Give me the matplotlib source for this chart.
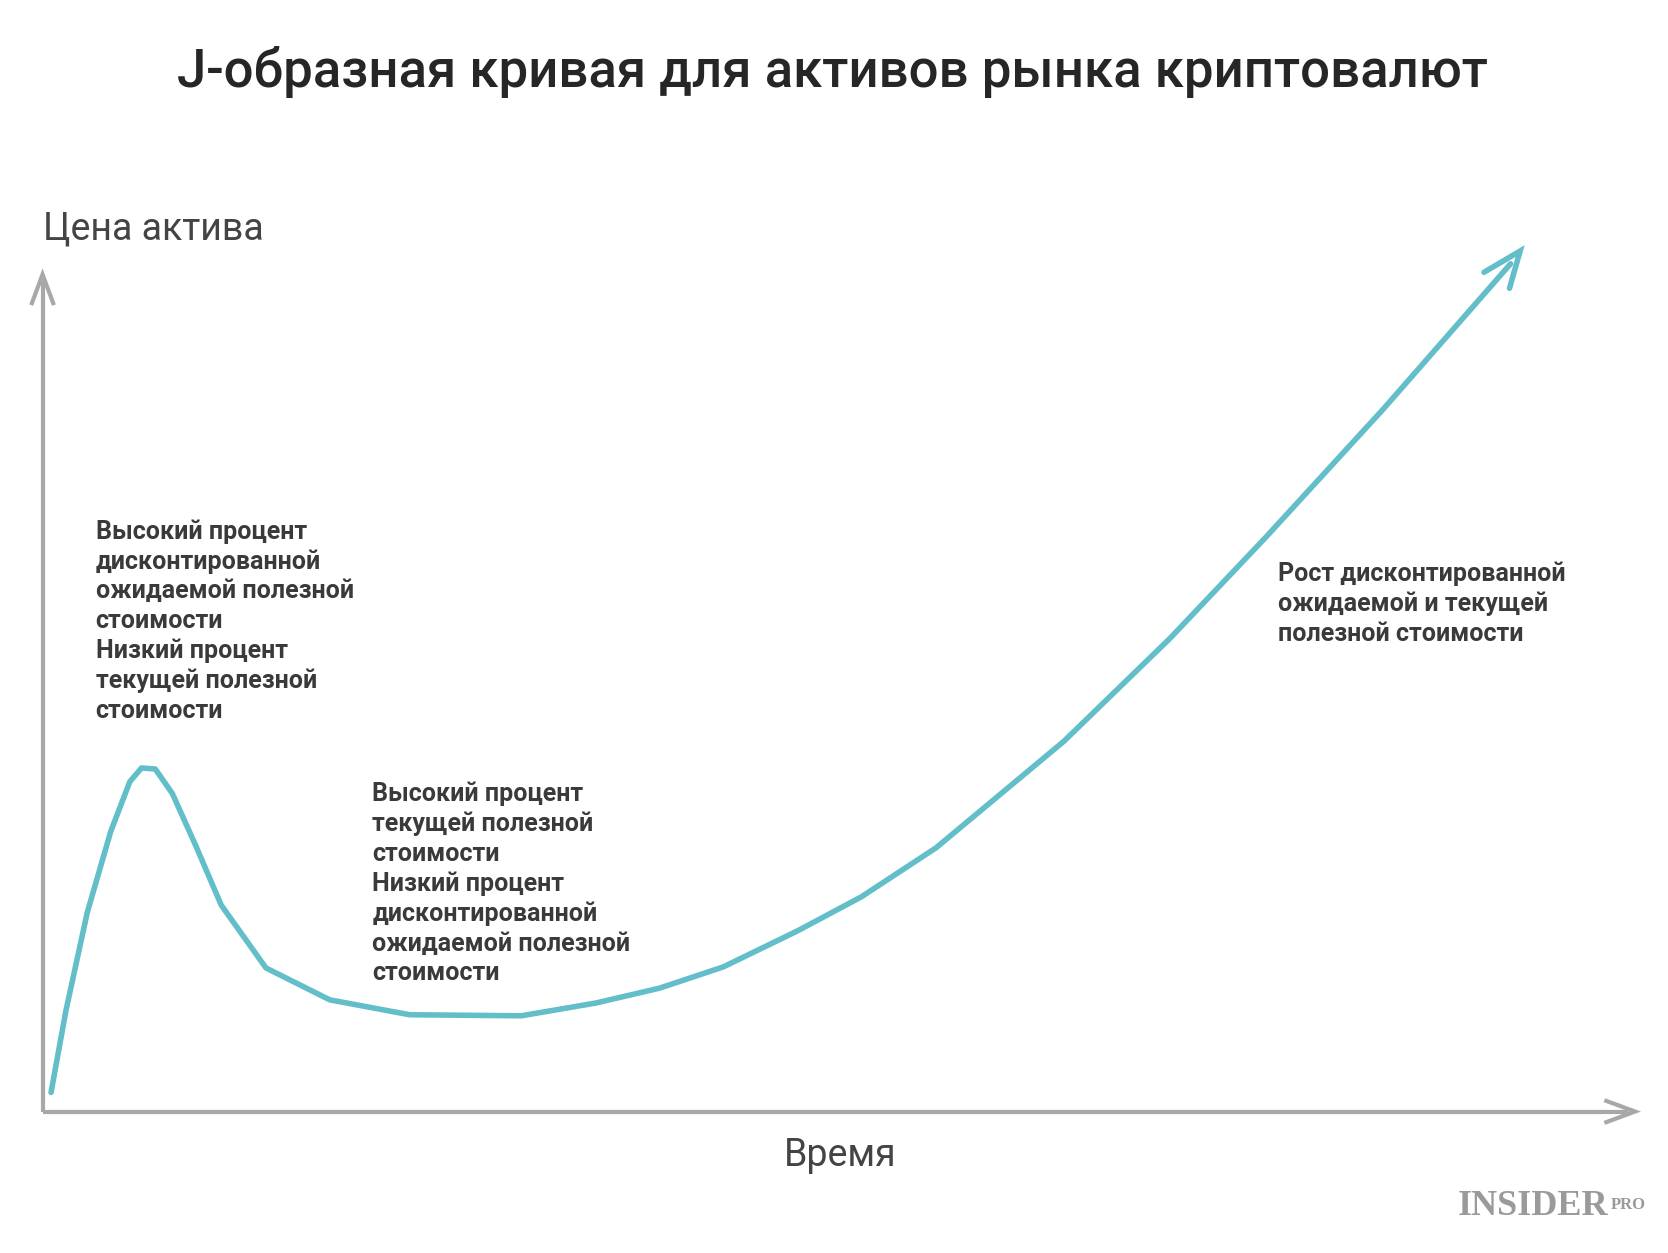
import matplotlib
matplotlib.use("Agg")
import matplotlib.pyplot as plt

# curve (time, price) in canvas units
time_x = [48, 62, 82, 104, 122, 133, 146, 162, 184, 208, 250, 310, 385, 490, 560, 620, 680, 750, 810, 880, 1000, 1100, 1190, 1300, 1420]
price_y = [1027, 950, 858, 782, 735, 722, 723, 746, 795, 851, 910, 940, 954, 955, 943, 929, 909, 875, 843, 797, 697, 600, 505, 385, 248]

title = "J-образная кривая для активов рынка криптовалют"
ylabel = "Цена актива"
xlabel = "Время"
notes = [
    (90, 500, "Высокий процент\nдисконтированной\nожидаемой полезной\nстоимости\nНизкий процент\nтекущей полезной\nстоимости"),
    (350, 747, "Высокий процент\nтекущей полезной\nстоимости\nНизкий процент\nдисконтированной\nожидаемой полезной\nстоимости"),
    (1201, 540, "Рост дисконтированной\nожидаемой и текущей\nполезной стоимости"),
]

plt.rcParams['font.family'] = ['Roboto', 'DejaVu Sans']
fig = plt.figure(figsize=(16.68, 12.53), dpi=100)
ax = fig.add_axes([0, 0, 1, 1])
ax.set_xlim(0, 1568)
ax.set_ylim(1178, 0)
ax.axis('off')

grey = '#a8a8a8'
ax.plot([40, 40], [1045, 262], color=grey, lw=3, solid_capstyle='butt')
ax.plot([40, 1530], [1045, 1045], color=grey, lw=3, solid_capstyle='butt')
ax.plot([30, 40, 50], [285, 258, 285], color=grey, lw=3, solid_joinstyle='miter')
ax.plot([1510, 1537, 1510], [1035, 1045, 1055], color=grey, lw=3, solid_joinstyle='miter')

teal = '#62bec8'
ax.plot(time_x, price_y, color=teal, lw=4, solid_joinstyle='round', solid_capstyle='round')
ax.plot([1395, 1429, 1419], [256, 236, 271], color=teal, lw=4, solid_joinstyle='miter', solid_capstyle='round')

ax.text(783, 68, title, ha='center', va='center', fontsize=38, fontweight='medium', color='#262626')
ax.text(40, 215, ylabel, ha='left', va='center', fontsize=27, color='#444444')
ax.text(790, 1086, xlabel, ha='center', va='center', fontsize=27, color='#444444')
for x, y, s in notes:
    ax.text(x, y - 12, s, ha='left', va='top', fontsize=18, fontweight='bold', color='#3a3a3a', linespacing=1.29)

ax.text(1512, 1134, "INSIDER", ha='right', va='center', fontsize=26, fontweight='bold',
        family='Liberation Serif', color='#9a9a9a')
ax.text(1514, 1133, "PRO", ha='left', va='center', fontsize=12, fontweight='bold',
        family='Liberation Serif', color='#9a9a9a')

fig.savefig('out.png', dpi=100)
